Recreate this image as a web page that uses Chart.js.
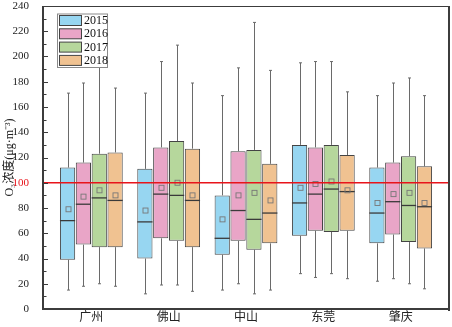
<!DOCTYPE html>
<html>
<head>
<meta charset="utf-8">
<script src="https://cdn.jsdelivr.net/npm/chart.js@4/dist/chart.umd.min.js"></script>
<style>
  body { margin: 0; background: #fff; }
</style>
</head>
<body>
<canvas id="boxChart" width="452" height="327"></canvas>
<script>
// cities on the x axis and the four years of the legend
const cities = ['广州', '佛山', '中山', '东莞', '肇庆'];
const years = ['2015', '2016', '2017', '2018'];

// box plot statistics, one row per year, one column per city
const lowWhisker = [
  [15, 12, 15, 28, 22],
  [18, 19, 20, 25, 24],
  [20, 19, 12, 28, 20],
  [18, 14, 15, 24, 16]
];
const q1 = [
  [39, 40, 43, 58, 52],
  [51, 56, 54, 62, 59],
  [49, 54, 47, 61, 53],
  [49, 49, 52, 62, 48]
];
const median = [
  [70, 69, 56, 84, 76],
  [83, 91, 78, 91, 85],
  [88, 90, 71, 95, 82],
  [86, 86, 76, 93, 81]
];
const q3 = [
  [112, 111, 90, 130, 112],
  [116, 128, 125, 128, 116],
  [123, 133, 126, 130, 121],
  [124, 127, 115, 122, 113]
];
const highWhisker = [
  [171, 171, 169, 195, 169],
  [179, 196, 191, 196, 179],
  [205, 209, 227, 196, 183],
  [175, 179, 189, 172, 169]
];
const mean = [
  [79, 78, 71, 96, 84],
  [89, 96, 90, 99, 91],
  [94, 100, 92, 101, 92],
  [90, 90, 86, 94, 84]
];

const limitValue = 100; // red guide line
const yTicks = [0, 20, 40, 60, 80, 100, 120, 140, 160, 180, 200, 220, 240];

const boxColors = ['#97d6f1', '#e9a5c7', '#b6d79c', '#f0c291'];

// whiskers, medians, means and the 100 line, drawn on top of the boxes
const boxExtras = {
  id: 'boxExtras',
  afterDatasetsDraw(chart) {
    const ctx = chart.ctx;
    const y = chart.scales.y;
    const area = chart.chartArea;
    ctx.save();
    chart.data.datasets.forEach((ds, i) => {
      const meta = chart.getDatasetMeta(i);
      meta.data.forEach((bar, j) => {
        const x = Math.round(bar.x) + 0.5;
        const half = bar.width / 2;
        // whiskers
        ctx.strokeStyle = '#6a6a6a';
        ctx.lineWidth = 1;
        ctx.beginPath();
        ctx.moveTo(x, y.getPixelForValue(q3[i][j]));
        ctx.lineTo(x, y.getPixelForValue(highWhisker[i][j]));
        ctx.moveTo(x, y.getPixelForValue(q1[i][j]));
        ctx.lineTo(x, y.getPixelForValue(lowWhisker[i][j]));
        ctx.moveTo(x - 1.5, y.getPixelForValue(highWhisker[i][j]));
        ctx.lineTo(x + 1.5, y.getPixelForValue(highWhisker[i][j]));
        ctx.moveTo(x - 1.5, y.getPixelForValue(lowWhisker[i][j]));
        ctx.lineTo(x + 1.5, y.getPixelForValue(lowWhisker[i][j]));
        ctx.stroke();
        // median
        ctx.strokeStyle = '#3a3a3a';
        ctx.lineWidth = 1.3;
        ctx.beginPath();
        const my = y.getPixelForValue(median[i][j]);
        ctx.moveTo(bar.x - half, my);
        ctx.lineTo(bar.x + half, my);
        ctx.stroke();
        // mean square
        ctx.strokeStyle = '#777';
        ctx.lineWidth = 0.9;
        const ay = y.getPixelForValue(mean[i][j]);
        ctx.strokeRect(x - 2.5, ay - 2.5, 5, 5);
      });
    });
    // red line at 100
    const ry = y.getPixelForValue(limitValue);
    ctx.strokeStyle = '#e8141b';
    ctx.lineWidth = 1.3;
    ctx.beginPath();
    ctx.moveTo(area.left, ry);
    ctx.lineTo(area.right, ry);
    ctx.stroke();
    ctx.restore();
  }
};

// frame, inner ticks on the y axis and the legend box
const frameAndLegend = {
  id: 'frameAndLegend',
  afterDraw(chart) {
    const ctx = chart.ctx;
    const a = chart.chartArea;
    const y = chart.scales.y;
    ctx.save();
    ctx.strokeStyle = '#3c3c3c';
    // top line thin
    ctx.lineWidth = 1;
    ctx.beginPath();
    ctx.moveTo(a.left, a.top + 0.5);
    ctx.lineTo(a.right, a.top + 0.5);
    ctx.stroke();
    // left, bottom, right thicker
    ctx.lineWidth = 2;
    ctx.beginPath();
    ctx.moveTo(a.left, a.top);
    ctx.lineTo(a.left, a.bottom);
    ctx.lineTo(a.right, a.bottom);
    ctx.moveTo(a.right, a.top);
    ctx.lineTo(a.right, a.bottom + 2);
    ctx.stroke();
    // inner ticks, major every 20, minor every 10
    ctx.lineWidth = 1;
    ctx.beginPath();
    for (let v = 0; v <= 240; v += 10) {
      const py = Math.round(y.getPixelForValue(v)) + 0.5;
      const len = v % 20 === 0 ? 4 : 2.5;
      ctx.moveTo(a.left, py);
      ctx.lineTo(a.left + 1 + len, py);
    }
    ctx.stroke();

    // legend
    const lx = 57, ly = 13.5, lw = 50, lh = 53.5;
    ctx.fillStyle = '#fff';
    ctx.fillRect(lx, ly, lw, lh);
    ctx.strokeStyle = '#8a8a8a';
    ctx.lineWidth = 1;
    ctx.strokeRect(lx + 0.5, ly + 0.5, lw, lh);
    ctx.font = "12px 'Liberation Serif'";
    ctx.textBaseline = 'middle';
    ctx.textAlign = 'left';
    years.forEach((yr, i) => {
      const cy = 20.5 + i * 13.3;
      ctx.fillStyle = boxColors[i];
      ctx.fillRect(59.5, cy - 5, 22, 10);
      ctx.strokeStyle = '#444';
      ctx.strokeRect(59.5, cy - 5, 22, 10);
      ctx.fillStyle = '#111';
      ctx.fillText(yr, 84, cy + 0.5);
    });
    ctx.restore();
  }
};

const datasets = years.map((yr, i) => ({
  label: yr,
  data: cities.map((c, j) => ({ x: j + 1, y: [q1[i][j], q3[i][j]] })),
  backgroundColor: boxColors[i],
  borderColor: '#444',
  borderWidth: 1,
  borderSkipped: false,
  categoryPercentage: 0.82,
  barPercentage: 0.96
}));

new Chart(document.getElementById('boxChart'), {
  type: 'bar',
  data: { datasets },
  options: {
    responsive: false,
    animation: false,
    layout: { autoPadding: false, padding: { top: 6, right: 3, left: 0, bottom: 0 } },
    plugins: {
      legend: { display: false },
      tooltip: { enabled: false }
    },
    scales: {
      x: {
        type: 'linear',
        offset: false,
        min: 0.375,
        max: 5.625,
        afterBuildTicks: s => { s.ticks = cities.map((c, j) => ({ value: j + 1 })); },
        afterFit: s => { s.height = 18; s.paddingLeft = 0; s.paddingRight = 0; },
        grid: { display: false },
        border: { display: false },
        ticks: {
          padding: -8,
          color: '#222',
          font: { family: "'Noto Sans CJK SC'", size: 12 },
          callback: v => cities[v - 1]
        }
      },
      y: {
        min: 0,
        max: 240,
        afterBuildTicks: s => { s.ticks = yTicks.map(v => ({ value: v })); },
        afterFit: s => { s.width = 43; s.paddingTop = 0; s.paddingBottom = 0; },
        grid: { display: false },
        border: { display: false },
        ticks: {
          padding: 6,
          font: { family: "'Liberation Serif'", size: 11 },
          color: c => (c.tick && c.tick.value === limitValue ? '#e8141b' : '#222')
        },
        title: {
          display: true,
          text: 'O₃浓度(μg·m⁻³)',
          color: '#222',
          font: { family: "'Liberation Serif', 'Noto Sans CJK SC'", size: 12 },
          padding: { top: 3, bottom: 0 }
        }
      }
    }
  },
  plugins: [boxExtras, frameAndLegend]
});
</script>
</body>
</html>
